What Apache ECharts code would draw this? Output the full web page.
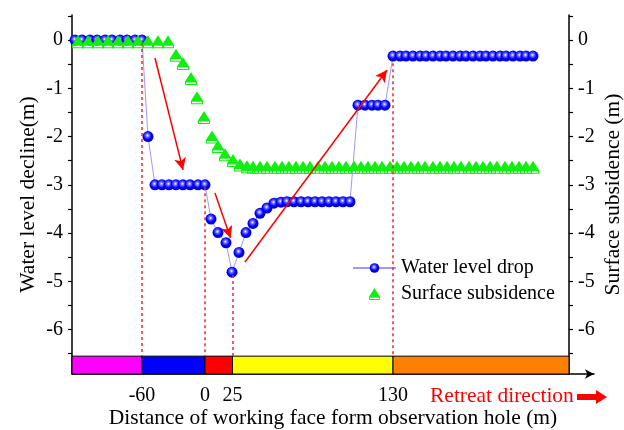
<!DOCTYPE html>
<html><head><meta charset="utf-8">
<script src="https://cdn.jsdelivr.net/npm/echarts@6/dist/echarts.min.js"></script>
<style>html,body{margin:0;padding:0;background:#fff}#c{width:624px;height:430px}</style>
</head><body><div id="c"></div>
<script>
// ---- data (x in plot position units along the observation sequence) ----
const seriesNames = ['Water level drop', 'Surface subsidence'];
const waterX = [3,10,18,25,33,40,48,55,63,70,
  76,
  83,90,97,104,111,118,126,133,
  139,146,154,160,167,174,181,188,195,202,209,
  215,222,229,236,243,250,257,264,271,278,
  286,293,300,306,313,
  321,328,334,341,348,354,361,368,374,381,388,394,401,408,414,421,428,434,441,448,454,461];
const waterY = [0,0,0,0,0,0,0,0,0,0,
  -2.0,
  -3,-3,-3,-3,-3,-3,-3,-3,
  -3.71,-3.99,-4.2,-4.81,-4.4,-3.99,-3.8,-3.59,-3.48,-3.38,-3.36,
  -3.35,-3.35,-3.35,-3.35,-3.35,-3.35,-3.35,-3.35,-3.35,-3.35,
  -1.35,-1.35,-1.35,-1.35,-1.35,
  -0.33,-0.33,-0.33,-0.33,-0.33,-0.33,-0.33,-0.33,-0.33,-0.33,-0.33,-0.33,-0.33,-0.33,-0.33,-0.33,-0.33,-0.33,-0.33,-0.33,-0.33,-0.33];
const subX = [6,16,26,36,46,56,66,76,86,96,
  104,111,119,125,132,140,146,153,161,168,175,
  181,188,195,203,210,217,224,231,238,246,253,260,267,274,282,289,296,303,310,318,
  325,332,339,346,353,361,368,375,382,389,397,404,411,418,425,433,440,447,454,461];
const subY = [0,0,0,0,0,0,0,0,0,0,
  -0.28,-0.45,-0.76,-1.16,-1.57,-1.97,-2.17,-2.34,-2.46,-2.55,-2.59,
  -2.6,-2.6,-2.6,-2.6,-2.6,-2.6,-2.6,-2.6,-2.6,-2.6,-2.6,-2.6,-2.6,-2.6,-2.6,-2.6,-2.6,-2.6,-2.6,-2.6,
  -2.6,-2.6,-2.6,-2.6,-2.6,-2.6,-2.6,-2.6,-2.6,-2.6,-2.6,-2.6,-2.6,-2.6,-2.6,-2.6,-2.6,-2.6,-2.6,-2.6];
const xTickPos = [70, 133, 160.5, 321];
const xTickLabels = ['-60', '0', '25', '130'];
const yTickValues = [0, -1, -2, -3, -4, -5, -6];
const yMinorValues = [0.5, 0, -0.5, -1, -1.5, -2, -2.5, -3, -3.5, -4, -4.5, -5, -5.5, -6, -6.5];
const zoneEdges = [0, 70, 133, 160.5, 321, 497];

// ---- styles ----
const FONT = "'Liberation Serif', 'Times New Roman', serif";
const zoneColors = ['#ff00ff', '#0000ff', '#ff0000', '#ffff00', '#ff8000'];
const triPath = 'path://M6 0L12 9.5L0 9.5ZM0 9.5L12 9.5L12 13L0 13ZM1 10.5L1 12L11 12L11 10.5Z';
const barTop = -6.55, barBottom = -6.92;

const waterData = waterX.map((x, i) => [x, waterY[i]]);
const subData = subX.map((x, i) => [x, subY[i]]);

const zoneAreas = zoneColors.map((c, i) => [
  { xAxis: zoneEdges[i], yAxis: barTop, itemStyle: { color: c, borderColor: '#000', borderWidth: 1 } },
  { xAxis: zoneEdges[i + 1], yAxis: barBottom }
]);

const dotted = { color: '#ff2020', width: 1.5, type: [3, 3] };
const markerLines = [
  [[70, -0.06], [70, barTop]],
  [[133, -3.05], [133, barTop]],
  [[160.5, -4.87], [160.5, barTop]],
  [[321, -0.48], [321, barTop]]
].map(d => [{ coord: d[0], lineStyle: dotted, symbol: 'none' }, { coord: d[1], symbol: 'none' }]);
const arrowLine = { color: '#ff0000', width: 1.5, type: 'solid' };
const arrows = [
  [[83, -0.37], [111, -2.69]],
  [[143, -3.17], [158.5, -4.1]],
  [[173, -4.6], [315, -0.62]]
].map(a => [{ coord: a[0], lineStyle: arrowLine, symbol: 'none' }, { coord: a[1], symbol: 'arrow' }]);

const yAxisBase = {
  type: 'value', min: barBottom, max: 0.52,
  axisLine: { show: true, onZero: false, lineStyle: { color: '#000', width: 1.5 } },
  axisTick: { show: true, inside: false, length: 4, customValues: yMinorValues, lineStyle: { color: '#000', width: 1.2 } },
  axisLabel: { customValues: yTickValues, color: '#000', fontFamily: FONT, fontSize: 20, margin: 9 },
  splitLine: { show: false },
  nameLocation: 'middle',
  nameRotate: 90,
  nameMoveOverlap: false,
  nameTextStyle: { color: '#000', fontFamily: FONT, fontSize: 21.5 }
};

const option = {
  animation: false,
  backgroundColor: '#fff',
  grid: { left: 72, right: 30, top: 15, bottom: 56, outerBoundsMode: 'none', containLabel: false },
  legend: {
    orient: 'vertical', left: 347, top: 253, itemWidth: 43, itemHeight: 12, itemGap: 6,
    textStyle: { color: '#000', fontFamily: FONT, fontSize: 20 },
    data: [{ name: seriesNames[0] }, { name: seriesNames[1], icon: triPath, itemStyle: { color: '#11ee11' } }]
  },
  xAxis: {
    type: 'value', min: 0, max: 522,
    axisLine: { show: true, onZero: false, symbol: ['none', 'arrow'], symbolSize: [7, 9], lineStyle: { color: '#000', width: 1.5 } },
    axisTick: { show: false },
    axisLabel: {
      customValues: xTickPos, color: '#000', fontFamily: FONT, fontSize: 20, margin: 12,
      formatter: v => { const i = xTickPos.findIndex(p => Math.abs(p - v) < 0.01); return i >= 0 ? xTickLabels[i] : ''; }
    },
    splitLine: { show: false },
    name: 'Distance of working face form observation hole (m)',
    nameLocation: 'middle', nameGap: 33, nameMoveOverlap: false,
    nameTextStyle: { color: '#000', fontFamily: FONT, fontSize: 21.5 }
  },
  yAxis: [
    Object.assign({}, yAxisBase, { position: 'left', name: 'Water level decline(m)', nameGap: 33 }),
    Object.assign({}, yAxisBase, { position: 'right', offset: -25, name: 'Surface subsidence (m)', nameGap: 33 })
  ],
  graphic: [
    { type: 'text', left: 430, top: 385, style: { text: 'Retreat direction', fill: '#ff0000', font: '21.5px ' + FONT } },
    { type: 'polygon', shape: { points: [[577, 394], [596, 394], [596, 390], [607, 397], [596, 404], [596, 400], [577, 400]] }, style: { fill: '#ff0000' } }
  ],
  series: [
    {
      name: seriesNames[0], type: 'line', yAxisIndex: 0, data: waterData, z: 3,
      symbol: 'circle', symbolSize: 11,
      lineStyle: { color: '#9a9aff', width: 1 },
      itemStyle: {
        color: { type: 'radial', x: 0.45, y: 0.4, r: 0.6, colorStops: [
          { offset: 0, color: '#ffffff' }, { offset: 0.25, color: '#7070ff' }, { offset: 0.6, color: '#0000ff' }, { offset: 1, color: '#0000c0' }] },
        borderWidth: 0
      },
      markArea: { silent: true, z: 1, data: zoneAreas },
      markLine: { silent: true, symbolSize: [9, 12], label: { show: false }, data: markerLines.concat(arrows) }
    },
    {
      name: seriesNames[1], type: 'line', yAxisIndex: 1, data: subData, z: 4,
      symbol: triPath, symbolSize: [12, 13], symbolOffset: [0, 1.75],
      lineStyle: { width: 0, opacity: 0 },
      itemStyle: { color: '#11ee11' }
    }
  ]
};
const chart = echarts.init(document.getElementById('c'), null, { renderer: 'canvas' });
chart.setOption(option);
</script></body></html>
